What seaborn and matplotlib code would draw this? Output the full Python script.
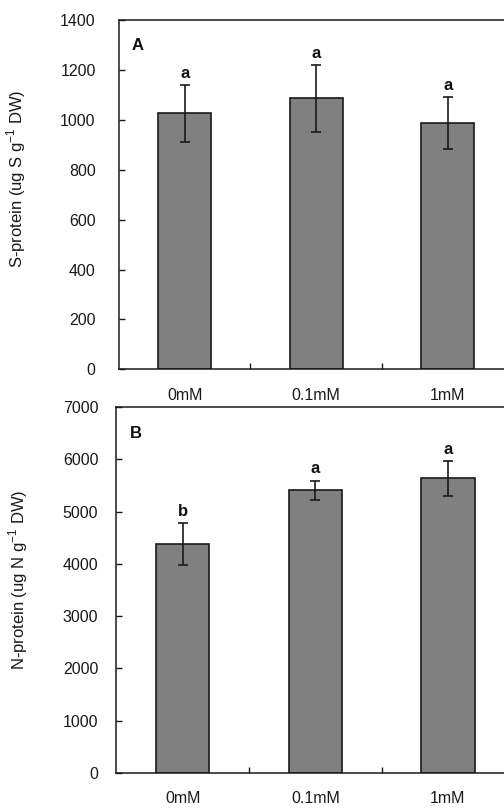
import matplotlib
matplotlib.use("Agg")
import matplotlib.pyplot as plt
import seaborn as sns
import pandas as pd

# Treatment levels and measured means / standard errors
treatments = ["0mM", "0.1mM", "1mM"]

s_protein = [1027, 1087, 989]
s_err = [114, 134, 104]
s_letters = ["a", "a", "a"]

n_protein = [4381, 5410, 5640]
n_err = [395, 185, 330]
n_letters = ["b", "a", "a"]

sns.set_theme(style="white")
plt.rcParams["font.family"] = ["Liberation Sans", "DejaVu Sans"]
plt.rcParams["mathtext.fontset"] = "custom"
plt.rcParams["mathtext.rm"] = "Liberation Sans"

fig = plt.figure(figsize=(5.04, 8.10), dpi=100)
ax_a = fig.add_axes([0.2361, 0.5441, 0.7827, 0.4309])
ax_b = fig.add_axes([0.2308, 0.0460, 0.7897, 0.4512])


def draw_panel(ax, values, errs, letters, ymax, ystep, ylabel, tag, ypad,
               label_xy):
    df = pd.DataFrame({"treatment": treatments, "value": values})
    sns.barplot(data=df, x="treatment", y="value", ax=ax, color="#808080",
                saturation=1, width=0.4, edgecolor="#1a1a1a", linewidth=1.2,
                errorbar=None)
    xs = range(len(treatments))
    ax.errorbar(list(xs), values, yerr=errs, fmt="none", ecolor="#1a1a1a",
                elinewidth=1.2, capsize=3.8, capthick=1.2)
    for x, v, e, lab in zip(xs, values, errs, letters):
        ax.annotate(lab, (x, v + e), xytext=(0, 3), textcoords="offset points",
                    ha="center", va="bottom", fontsize=12, fontweight="bold",
                    color="#111111")
    ax.set_xlim(-0.5, 2.5)
    ax.set_ylim(0, ymax)
    ax.set_yticks(range(0, ymax + 1, ystep))
    ax.set_xticks(list(xs))
    ax.set_xticks([0.5, 1.5], minor=True)
    ax.set_xticklabels(treatments)
    ax.tick_params(axis="x", which="major", length=0, pad=13.5, labelsize=11.5,
                   colors="#1a1a1a")
    ax.tick_params(axis="x", which="minor", direction="in", length=4,
                   width=1, color="#1a1a1a", bottom=True)
    ax.tick_params(axis="y", direction="in", length=4.5, width=1, left=True,
                   pad=ypad, labelsize=11.5, colors="#1a1a1a")
    ax.set_xlabel("")
    ax.set_ylabel(ylabel, fontsize=12, color="#1a1a1a")
    ax.yaxis.set_label_coords(*label_xy)
    for side in ["left", "bottom", "top", "right"]:
        ax.spines[side].set_visible(True)
        ax.spines[side].set_color("#1a1a1a")
        ax.spines[side].set_linewidth(1.1)
    ax.text(0.048, 0.928, tag, transform=ax.transAxes, fontsize=12,
            fontweight="bold", ha="center", va="center", color="#111111")


draw_panel(ax_a, s_protein, s_err, s_letters, 1400, 200,
           r"S-protein (ug S g$^{\mathregular{-1}}$ DW)", "A", 16.8,
           (-0.231, 0.547))
draw_panel(ax_b, n_protein, n_err, n_letters, 7000, 1000,
           r"N-protein (ug N g$^{\mathregular{-1}}$ DW)", "B", 13,
           (-0.217, 0.527))

fig.savefig("out.png", dpi=100)
